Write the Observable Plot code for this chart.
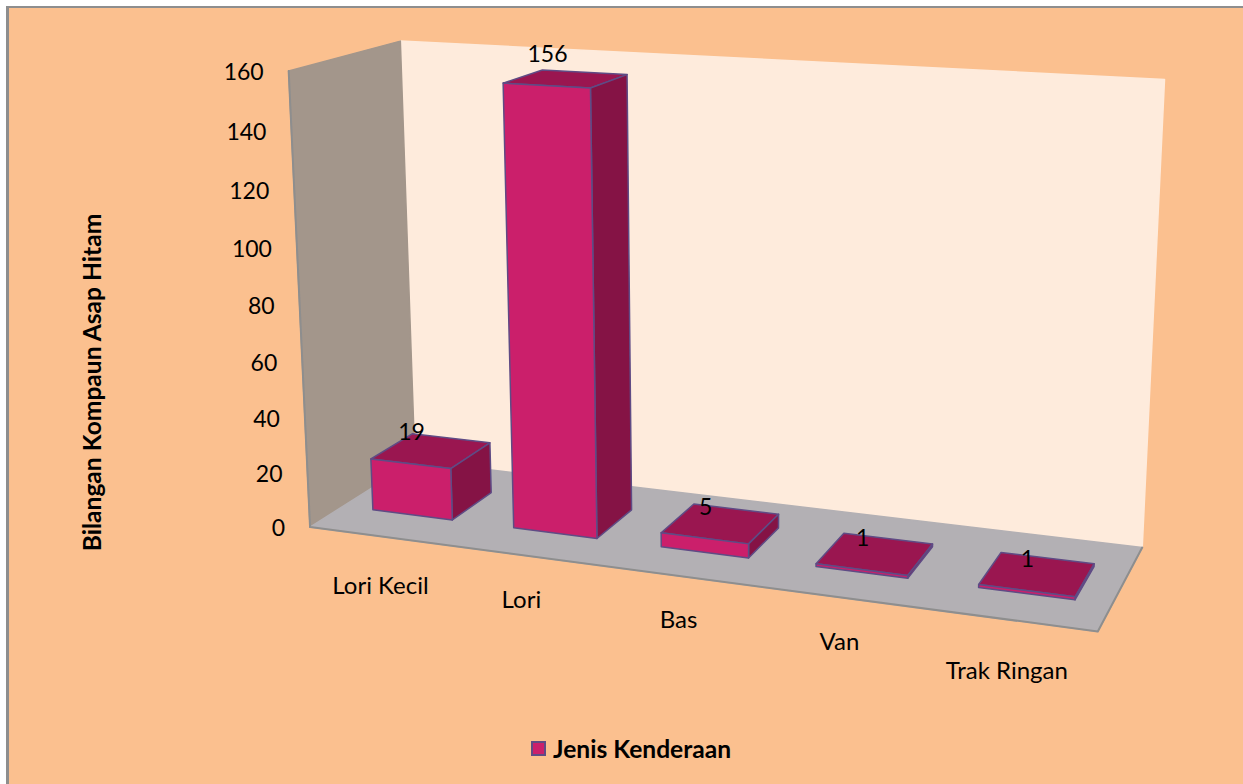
<!DOCTYPE html>
<html><head><meta charset="utf-8">
<script src="https://cdn.jsdelivr.net/npm/d3@7"></script>
<script src="https://cdn.jsdelivr.net/npm/@observablehq/plot@0.6"></script>
<style>
html,body{margin:0;padding:0;background:#fff;width:1243px;height:784px;overflow:hidden}
#chart{position:absolute;left:6px;top:6px;right:0;bottom:0;width:1237px;height:778px;background:#FBC08F;border-left:3px solid #8E8E8E;border-top:2px solid #8E8E8E;box-sizing:border-box}
#plot{position:absolute;left:0;top:0}
#plot svg{background:transparent;display:block}
#legend{position:absolute;left:531px;top:733px;height:30px;display:flex;align-items:center;font:bold 24.6px Lato,sans-serif;color:#000;gap:7px}
#legend i{display:block;width:11px;height:11px;background:#CB1F6B;border:2.5px solid #5F4B85}
</style></head>
<body>
<div id="chart"></div>
<div id="plot" style="position:absolute;left:0;top:0"></div>
<div id="legend"><i></i><span>Jenis Kenderaan</span></div>
<script>
const categories = ["Lori Kecil", "Lori", "Bas", "Van", "Trak Ringan"];
const values = [19, 156, 5, 1, 1];
const ticks = [0, 20, 40, 60, 80, 100, 120, 140, 160];
const seriesName = "Jenis Kenderaan";
const axisTitle = "Bilangan Kompaun Asap Hitam";
const vMax = 160;

// camera calibration: room corners (u, value fraction, depth) seen in the picture
const calib = [
  [0,0,0,310,527],[1,0,0,1097,631],[1,0,1,1142,547],[0,0,1,414,460],
  [0,1,0,288,70],[0,1,1,400,41],[1,1,1,1164,79]
];
function solveCamera(pts){
  const A=[],B=[];
  for(const [u,v,w,x0,y0] of pts){
    const x=x0/1000,y=y0/1000;
    A.push([u,v,w,1,0,0,0,0,-x*u,-x*v,-x*w]);B.push(x);
    A.push([0,0,0,0,u,v,w,1,-y*u,-y*v,-y*w]);B.push(y);
  }
  const n=11,M=[];
  for(let i=0;i<n;i++){M.push([]);for(let j=0;j<n;j++){let s=i===j?1e-9:0;A.forEach(r=>s+=r[i]*r[j]);M[i].push(s);}
    let s=0;A.forEach((r,k)=>s+=r[i]*B[k]);M[i].push(s);}
  for(let i=0;i<n;i++){let p=i;for(let k=i+1;k<n;k++)if(Math.abs(M[k][i])>Math.abs(M[p][i]))p=k;
    [M[i],M[p]]=[M[p],M[i]];
    for(let k=0;k<n;k++)if(k!==i){const f=M[k][i]/M[i][i];for(let j=i;j<=n;j++)M[k][j]-=f*M[i][j];}}
  return M.map((r,i)=>r[n]/r[i]);
}
const P=solveCamera(calib);
function project(u,val,w){
  const v=val/vMax,d=P[8]*u+P[9]*v+P[10]*w+1;
  return {x:1000*(P[0]*u+P[1]*v+P[2]*w+P[3])/d,y:1000*(P[4]*u+P[5]*v+P[6]*w+P[7])/d};
}
const faces=[];let fid=0;
function face(pts,fill,stroke){const id=fid++;pts.forEach(p=>{const q=project(...p);faces.push({id,x:q.x,y:q.y,fill,stroke});});}
// room
face([[0,0,1],[1,0,1],[1,vMax,1],[0,vMax,1]],"#FEEBDC","#FEEBDC");
face([[0,0,0],[0,0,1],[0,vMax,1],[0,vMax,0]],"#A3968B","#A3968B");
face([[0,0,0],[1,0,0],[1,0,1],[0,0,1]],"#B3B0B4","#B3B0B4");
// bars
const barFrac=0.57,w0=0.3,w1=0.7;
categories.forEach((c,i)=>{
  const u0=(i+.5-barFrac/2)/categories.length,u1=(i+.5+barFrac/2)/categories.length,h=values[i];
  const S="#5F4B85";
  face([[u0,h,w0],[u1,h,w0],[u1,h,w1],[u0,h,w1]],"#9A1650",S);
  face([[u1,0,w0],[u1,0,w1],[u1,h,w1],[u1,h,w0]],"#851345",S);
  face([[u0,0,w0],[u1,0,w0],[u1,h,w0],[u0,h,w0]],"#CB1F6B",S);
});
const edges=[];
[[[0,vMax,0],[0,0,0],[1,0,0],[1,0,1]]].forEach((e,k)=>e.forEach(p=>edges.push({k,...project(...p)})));
const tickLabels=ticks.map(t=>({t,...project(0,t,0)}));
const catNudge=[[0,50],[-5,45],[-1,44],[-1,45],[-3,52]];
const catLabels=categories.map((c,i)=>{const q=project((i+.5)/categories.length,0,0);return {c,x:q.x+catNudge[i][0],y:q.y+catNudge[i][1]};});
const valLabels=values.map((v,i)=>({v,...project((i+.5)/categories.length,v,w0)}));
const font="Lato, sans-serif";
const plot=Plot.plot({
  width:1243,height:730,margin:0,
  x:{domain:[0,1243],range:[0,1243],axis:null},
  y:{domain:[0,730],range:[0,730],axis:null},
  color:{type:"identity"},
  style:{background:"transparent"},
  marks:[
    Plot.line(faces,{x:"x",y:"y",z:"id",fill:"fill",stroke:"stroke",strokeWidth:1.5,curve:"linear-closed"}),
    Plot.line(edges,{x:"x",y:"y",z:"k",stroke:"#8E8E8E",strokeWidth:2}),
    Plot.text(tickLabels,{x:"x",y:"y",dx:-25,dy:2,text:d=>String(d.t),textAnchor:"end",fontSize:23,fontFamily:font,fill:"#000"}),
    Plot.text(catLabels,{x:"x",y:"y",text:"c",fontSize:24,fontFamily:font,fill:"#000"}),
    Plot.text(valLabels,{x:"x",y:"y",dy:-31,dx:1,text:d=>String(d.v),fontSize:23,fontFamily:font,fill:"#000"}),
    Plot.text([axisTitle],{x:()=>93,y:()=>382,text:d=>d,rotate:-90,fontSize:24.6,fontWeight:"bold",fontFamily:font,fill:"#000"})
  ]
});
document.getElementById("plot").appendChild(plot);
</script>
</body></html>
